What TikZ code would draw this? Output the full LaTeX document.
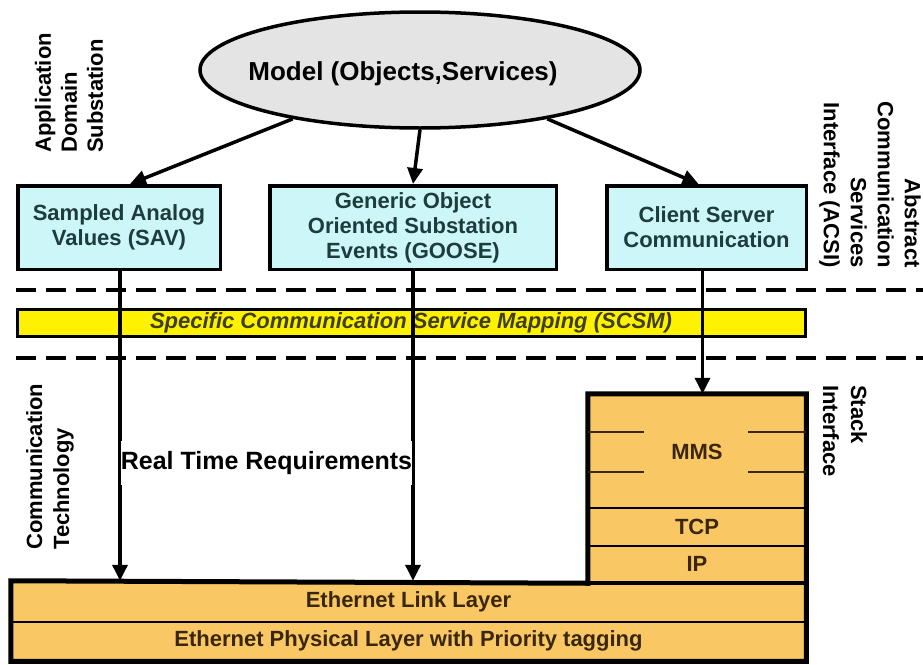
\documentclass[tikz,border=0pt]{standalone}
\usepackage{fontspec}
\setmainfont{Liberation Sans}
\usetikzlibrary{shapes.geometric,arrows.meta}

\definecolor{boxcyan}{HTML}{CCF6F8}
\definecolor{boxtext}{HTML}{1E3C3C}
\definecolor{stackorange}{HTML}{F9C864}
\definecolor{stacktext}{HTML}{3A260A}
\definecolor{modelgray}{HTML}{E4E4E4}
\definecolor{scsmtext}{HTML}{3E3E0E}

\begin{document}
\begin{tikzpicture}[x=1pt,y=-1pt,
  svcbox/.style={rectangle, draw, line width=3.5pt, fill=boxcyan, text=boxtext,
    font=\bfseries\fontsize{22}{25}\selectfont, align=center, inner sep=0pt},
  layerbox/.style={rectangle, draw, line width=2.5pt, fill=stackorange, text=stacktext,
    font=\bfseries\fontsize{22}{25}\selectfont, inner sep=0pt},
  flow/.style={line width=3.5pt, -{Triangle[length=16pt,width=15pt]}},
  separator/.style={line width=4pt, dash pattern=on 20pt off 10pt},
  sidelabel/.style={font=\bfseries\fontsize{22}{27}\selectfont, inner sep=0pt},
  tickline/.style={line width=2pt, stacktext}
]
\useasboundingbox[fill=white] (0,0) rectangle (923,664);

% layer separators
\draw[separator] (16,290) -- (930,290);
\draw[separator] (16,358) -- (930,358);

% object model
\node[ellipse, draw, line width=3.5pt, fill=modelgray, minimum width=440pt,
      minimum height=116pt, inner sep=0pt] (model) at (420,70) {};
\node[font=\bfseries\fontsize{26}{30}\selectfont] (modeltxt) at (403,74) {Model (Objects,Services)};

% services
\node[svcbox, minimum width=202.5pt, minimum height=83.5pt] (sav) at (119,227.5)
  {Sampled Analog\\Values (SAV)};
\node[svcbox, minimum width=286.5pt, minimum height=83.5pt] (goose) at (413,227.5)
  {Generic Object\\Oriented Substation\\Events (GOOSE)};
\node[svcbox, minimum width=199.5pt, minimum height=83.5pt] (csc) at (706.5,227.5)
  {Client Server\\Communication};

% mapping bar
\node[rectangle, draw, line width=3pt, fill=yellow, minimum width=788pt, minimum height=27pt,
      inner sep=0pt, text=scsmtext, font=\bfseries\itshape\fontsize{22}{25}\selectfont]
  (scsm) at (411,323) {Specific Communication Service Mapping (SCSM)};

% protocol stack
\node[layerbox, minimum width=216pt, minimum height=113pt] (mms) at (697,451.5) {MMS};
\node[layerbox, minimum width=216pt, minimum height=38pt] (tcp) at (697,527) {TCP};
\node[layerbox, minimum width=216pt, minimum height=36pt] (ip) at (697,564) {IP};
\node[layerbox, minimum width=793pt, minimum height=40pt] (ethlink) at (408.5,602) {Ethernet Link Layer};
\node[layerbox, minimum width=793pt, minimum height=38pt] (ethphy) at (408.5,641)
  {Ethernet Physical Layer with Priority tagging};
\draw[line width=5pt, line join=miter]
  (mms.north west) -- (mms.north east) -- (ethphy.south east) -- (ethphy.south west)
  -- (ethlink.north west) -- (ip.south west) -- cycle;
\draw[line width=4pt] (ip.south west) -- (ip.south east);
\draw[tickline] ([yshift=20pt]mms.west) -- ++(56,0);
\draw[tickline] ([yshift=-20pt]mms.west) -- ++(56,0);
\draw[tickline] ([yshift=20pt]mms.east) -- ++(-58,0);
\draw[tickline] ([yshift=-20pt]mms.east) -- ++(-58,0);

% model to services
\draw[flow] (model.201) -- ([xshift=11pt]sav.north);
\draw[flow] (model.south) -- (goose.north);
\draw[flow] (model.339) -- ([xshift=-8pt]csc.north);

% services to the stack
\draw[flow] ([xshift=1pt]sav.south) -- ([xshift=1pt]sav.south |- ethlink.north);
\draw[flow] (goose.south) -- (goose.south |- ethlink.north);
\draw[flow] ([xshift=-4pt]csc.south) -- ([xshift=-4pt]csc.south |- mms.north);

\node[fill=white, inner xsep=0pt, inner ysep=10pt,
      font=\bfseries\fontsize{25}{28}\selectfont] (rtreq) at (266.5,463) {Real Time Requirements};

% side labels
\node[sidelabel, rotate=90, anchor=west, align=left, font=\bfseries\fontsize{22}{26}\selectfont]
  (applbl) at (69,153) {Application\\Domain\\Substation};
\node[sidelabel, rotate=90, anchor=west, align=left] (commlbl) at (50,550)
  {Communication\\Technology};
\node[sidelabel, rotate=-90, anchor=east, align=right, font=\bfseries\fontsize{22}{27}\selectfont]
  (acsilbl) at (870,268) {Abstract\\Communication\\Services\\Interface (ACSI)};
\node[sidelabel, rotate=-90, anchor=west, align=left, font=\bfseries\fontsize{22}{28}\selectfont]
  (stacklbl) at (845,385) {Stack\\Interface};
\end{tikzpicture}
\end{document}
